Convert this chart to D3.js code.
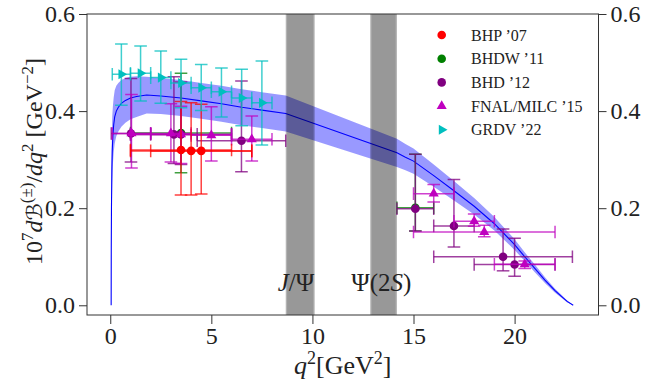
<!DOCTYPE html>
<html>
<head>
<meta charset="utf-8">
<script src="https://cdn.jsdelivr.net/npm/d3@7"></script>
<style>
  body { margin: 0; background: #fff; }
  text { font-family: "Liberation Serif", "DejaVu Serif", serif; fill: #222; }
</style>
</head>
<body>
<svg id="chart" width="670" height="386"></svg>
<script>
// SM prediction for dB/dq2 (units of 1e-7 GeV^-2): grid, central curve and uncertainty band
const q2Grid  = [0.045,0.05,0.06,0.08,0.1,0.13,0.17,0.22,0.3,0.4,0.55,0.75,1.0,1.3,1.8,2.5,3.5,4.5,5.5,6.5,7.5,8.68,14.18,14.6,15,16,17,18,19,20,20.5,21,21.5,22,22.3,22.6,22.9];
const central = [0,0.12,0.2,0.28,0.32,0.35,0.372,0.388,0.4,0.408,0.416,0.422,0.427,0.43,0.433,0.431,0.427,0.421,0.415,0.408,0.402,0.395,0.314,0.305,0.297,0.267,0.236,0.204,0.168,0.125,0.1,0.076,0.052,0.03,0.019,0.008,0];
const lower   = [0,0.07,0.13,0.2,0.25,0.29,0.315,0.333,0.348,0.358,0.368,0.376,0.383,0.388,0.395,0.394,0.39,0.384,0.378,0.371,0.365,0.358,0.285,0.278,0.271,0.244,0.216,0.187,0.154,0.114,0.091,0.068,0.046,0.026,0.016,0.006,0];
const upper   = [0,0.17,0.27,0.36,0.39,0.41,0.428,0.443,0.452,0.458,0.464,0.468,0.471,0.472,0.471,0.468,0.464,0.458,0.452,0.445,0.439,0.432,0.343,0.332,0.323,0.29,0.256,0.221,0.182,0.136,0.109,0.084,0.058,0.034,0.022,0.01,0];

// charmonium veto windows [q2min, q2max]
const vetoWindows = [[8.68, 10.11], [12.86, 14.18]];

// binned predictions: [q2min, q2max, value, lowEdge, highEdge]
const bhp07 = [
  [1, 6, 0.320, 0.227, 0.420],
  [1, 7, 0.318, 0.227, 0.417],
  [2, 7, 0.318, 0.229, 0.414]
];
const bhdw11 = [
  [1, 6, 0.355, 0.273, 0.478],
  [14.18, 16, 0.201, 0.153, 0.311]
];
const bhd12 = [
  [0.05, 2, 0.354, 0.295, 0.467],
  [2, 4.3, 0.352, 0.292, 0.471],
  [1, 6, 0.352, 0.290, 0.460],
  [4.3, 8.68, 0.339, 0.275, 0.462],
  [14.18, 16, 0.199, 0.153, 0.311],
  [16, 18, 0.1635, 0.120, 0.259],
  [16, 22.86, 0.100, 0.071, 0.157],
  [18, 22, 0.0839, 0.060, 0.138]
];
const fnal15 = [
  [0.1, 2, 0.354, 0.283, 0.434],
  [2, 4, 0.354, 0.295, 0.415],
  [1, 6, 0.352, 0.292, 0.410],
  [4, 6, 0.350, 0.297, 0.409],
  [6, 8, 0.342, 0.297, 0.390],
  [15, 17, 0.230, 0.213, 0.249],
  [17, 19, 0.173, 0.163, 0.188],
  [15, 22, 0.151, 0.141, 0.165],
  [19, 22, 0.0845, 0.076, 0.091]
];
const grdv22 = [
  [0.1, 1, 0.476, 0.412, 0.538],
  [1, 2, 0.478, 0.421, 0.534],
  [2, 3, 0.469, 0.416, 0.524],
  [3, 4, 0.458, 0.407, 0.507],
  [4, 5, 0.448, 0.401, 0.496],
  [5, 6, 0.440, 0.388, 0.489],
  [6, 7, 0.427, 0.370, 0.486],
  [7, 8, 0.417, 0.330, 0.503]
];

const xTicks = [0, 5, 10, 15, 20];
const yTicks = [0.0, 0.2, 0.4, 0.6];

const seriesList = [
  { name: "BHP ’07",        rows: bhp07,  color: "#ff0000", shape: "circle" },
  { name: "BHDW ’11",       rows: bhdw11, color: "#008000", shape: "circle" },
  { name: "BHD ’12",        rows: bhd12,  color: "#800080", shape: "circle" },
  { name: "FNAL/MILC ’15",  rows: fnal15, color: "#bf00bf", shape: "triangle" },
  { name: "GRDV ’22",       rows: grdv22, color: "#00bfbf", shape: "right" }
];
// drawing order of the point sets (legend keeps the list order)
const drawOrder = [1, 2, 3, 0, 4];

(function draw() {
  const svg = d3.select("#chart");
  const pL = 87, pR = 598.5, pT = 14, pB = 315;
  const x = d3.scaleLinear().domain([-1.15, 24.15]).range([pL, pR]);
  const y = d3.scaleLinear().domain([-0.02, 0.6]).range([pB, pT]);

  svg.append("defs").append("clipPath").attr("id", "plotclip")
    .append("rect").attr("x", pL).attr("y", pT).attr("width", pR - pL).attr("height", pB - pT);

  const plot = svg.append("g").attr("clip-path", "url(#plotclip)");

  // uncertainty band
  const bandPts = q2Grid.map((q, i) => ({ q, lo: lower[i], hi: upper[i], c: central[i] }));
  plot.append("path")
    .datum(bandPts)
    .attr("d", d3.area().x(d => x(d.q)).y0(d => y(d.lo)).y1(d => y(d.hi)))
    .attr("fill", "#0000ff").attr("fill-opacity", 0.4);

  // central curve
  plot.append("path")
    .datum(bandPts)
    .attr("d", d3.line().x(d => x(d.q)).y(d => y(d.c)))
    .attr("fill", "none").attr("stroke", "#0000ff").attr("stroke-width", 1.1);

  // veto windows
  vetoWindows.forEach(w => {
    plot.append("rect")
      .attr("x", x(w[0])).attr("y", pT).attr("width", x(w[1]) - x(w[0])).attr("height", pB - pT)
      .attr("fill", "#000").attr("fill-opacity", 0.3);
    plot.append("rect")
      .attr("x", x(w[0]) + 1.3).attr("y", pT).attr("width", x(w[1]) - x(w[0]) - 2.6).attr("height", pB - pT)
      .attr("fill", "#000").attr("fill-opacity", 0.14);
  });

  function markerPath(shape) {
    if (shape === "circle") return d3.symbol(d3.symbolCircle, 58)();
    return d3.symbol(d3.symbolTriangle, 44)();
  }
  function markerTransform(shape, px, py) {
    if (shape === "right") return `translate(${px},${py}) rotate(90)`;
    return `translate(${px},${py})`;
  }

  const cap = 6.3;
  drawOrder.forEach(si => {
    const s = seriesList[si];
    const g = plot.append("g");
    const eb = g.append("g").attr("stroke", s.color).attr("stroke-width", 1.5).attr("stroke-opacity", 0.75).attr("fill", "none");
    s.rows.forEach(r => {
      const qc = (r[0] + r[1]) / 2;
      const px = x(qc), py = y(r[2]);
      // bin extent
      eb.append("line").attr("x1", x(r[0])).attr("x2", x(r[1])).attr("y1", py).attr("y2", py);
      eb.append("line").attr("x1", x(r[0])).attr("x2", x(r[0])).attr("y1", py - cap).attr("y2", py + cap);
      eb.append("line").attr("x1", x(r[1])).attr("x2", x(r[1])).attr("y1", py - cap).attr("y2", py + cap);
      // uncertainty
      eb.append("line").attr("x1", px).attr("x2", px).attr("y1", y(r[3])).attr("y2", y(r[4]));
      eb.append("line").attr("x1", px - cap).attr("x2", px + cap).attr("y1", y(r[3])).attr("y2", y(r[3]));
      eb.append("line").attr("x1", px - cap).attr("x2", px + cap).attr("y1", y(r[4])).attr("y2", y(r[4]));
    });
    s.rows.forEach(r => {
      const qc = (r[0] + r[1]) / 2;
      g.append("path").attr("d", markerPath(s.shape))
        .attr("transform", markerTransform(s.shape, x(qc), y(r[2])))
        .attr("fill", s.color);
    });
  });

  // veto labels
  const labelG = svg.append("g").attr("font-size", 25);
  const jl = labelG.append("text").attr("x", x(8.68) - 8).attr("y", 291);
  jl.append("tspan").attr("font-style", "italic").text("J");
  jl.append("tspan").text("/Ψ");
  const pl = labelG.append("text").attr("x", x(12.86) - 19).attr("y", 291);
  pl.append("tspan").text("Ψ(2");
  pl.append("tspan").attr("font-style", "italic").text("S");
  pl.append("tspan").text(")");

  // frame
  svg.append("rect").attr("x", pL).attr("y", pT).attr("width", pR - pL).attr("height", pB - pT)
    .attr("fill", "none").attr("stroke", "#333").attr("stroke-width", 1);

  // axes
  const fmt = d3.format(".1f");
  function styleAxis(g) {
    g.select(".domain").remove();
    g.selectAll(".tick line").attr("stroke", "#333").attr("stroke-width", 1);
    g.selectAll(".tick text").attr("font-size", 24).attr("fill", "#222")
      .attr("font-family", "Liberation Serif, DejaVu Serif, serif");
  }
  svg.append("g").attr("transform", `translate(${pL},0)`)
    .call(d3.axisLeft(y).tickValues(yTicks).tickSize(8).tickPadding(4).tickFormat(fmt)).call(styleAxis);
  svg.append("g").attr("transform", `translate(${pR},0)`)
    .call(d3.axisRight(y).tickValues(yTicks).tickSize(8).tickPadding(4).tickFormat(fmt)).call(styleAxis);
  svg.append("g").attr("transform", `translate(0,${pB})`)
    .call(d3.axisBottom(x).tickValues(xTicks).tickSize(9).tickPadding(3).tickFormat(d3.format("d"))).call(styleAxis);

  // axis titles
  const xt = svg.append("text").attr("x", (pL + pR) / 2).attr("y", 374)
    .attr("text-anchor", "middle").attr("font-size", 26);
  xt.append("tspan").attr("font-style", "italic").text("q");
  xt.append("tspan").attr("dy", -10).attr("font-size", 18).text("2");
  xt.append("tspan").attr("dy", 10).text("[GeV");
  xt.append("tspan").attr("dy", -10).attr("font-size", 18).text("2");
  xt.append("tspan").attr("dy", 10).text("]");

  const yt = svg.append("text").attr("transform", `translate(42,${(pT + pB) / 2 - 3}) rotate(-90)`)
    .attr("text-anchor", "middle").attr("font-size", 24);
  yt.append("tspan").text("10");
  yt.append("tspan").attr("dy", -9).attr("font-size", 17).text("7");
  yt.append("tspan").attr("dy", 9).attr("font-style", "italic").text("d");
  yt.append("tspan").attr("font-family", "DejaVu Serif, DejaVu Sans, serif").attr("font-size", 22).text("ℬ");
  yt.append("tspan").attr("dy", -10).attr("font-size", 17).text("(±)");
  yt.append("tspan").attr("dy", 10).text("/");
  yt.append("tspan").attr("font-style", "italic").text("dq");
  yt.append("tspan").attr("dy", -9).attr("font-size", 17).text("2");
  yt.append("tspan").attr("dy", 9).text(" [GeV");
  yt.append("tspan").attr("dy", -9).attr("font-size", 17).text("−2");
  yt.append("tspan").attr("dy", 9).text("]");

  // legend
  const legend = svg.append("g");
  seriesList.forEach((s, i) => {
    const ly = 35 + i * 23.7;
    legend.append("path").attr("d", markerPath(s.shape))
      .attr("transform", markerTransform(s.shape, 441.7, ly)).attr("fill", s.color);
    legend.append("text").attr("x", 471).attr("y", ly + 5.5).attr("font-size", 16).text(s.name);
  });
})();
</script>
</body>
</html>
